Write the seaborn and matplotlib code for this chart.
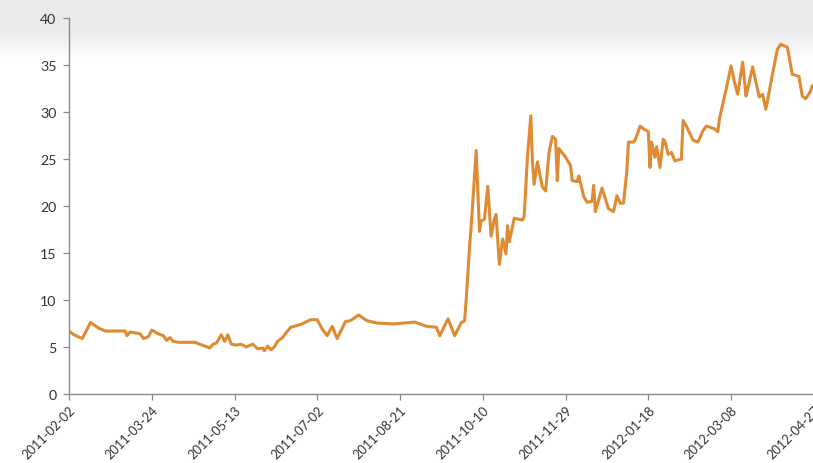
import numpy as np
import pandas as pd
import matplotlib
matplotlib.use("Agg")
import matplotlib.pyplot as plt
import seaborn as sns

# Series start date and day offsets of each observation
start_date = "2011-02-02"
day_offsets = [
    0, 3, 8, 13, 18, 22, 34, 35, 37, 43, 45, 48, 50, 54, 57, 59, 61, 63, 66, 76,
    82, 85, 87, 89, 92, 94, 96, 98, 101, 104, 107, 111, 114, 117, 118, 120, 122, 124, 126, 129,
    132, 134, 140, 146, 150, 153, 156, 159, 162, 167, 170, 175, 180, 186, 196, 209, 216, 222, 224, 229,
    233, 237, 239, 240, 242, 243, 246, 248, 249, 251, 253, 255, 257, 258, 260, 262, 264, 265, 266, 269,
    274, 275, 277, 279, 280, 281, 283, 286, 288, 290, 292, 294, 295, 296, 300, 303, 304, 307, 308, 311,
    313, 316, 317, 318, 322, 326, 329, 331, 333, 335, 337, 338, 341, 342, 345, 348, 350, 351, 352, 354,
    355, 357, 359, 360, 362, 364, 366, 370, 371, 373, 377, 380, 383, 385, 387, 390, 392, 393, 397, 400,
    402, 404, 407, 409, 410, 413, 416, 417, 419, 421, 422, 425, 428, 430, 434, 437, 441, 443, 445, 448,
    449,
]
values = [
    6.7, 6.3, 5.9, 7.6, 7.0, 6.7, 6.7, 6.2, 6.6, 6.4, 5.9, 6.1, 6.8, 6.4, 6.2, 5.7, 6.0, 5.6, 5.5, 5.5,
    5.1, 4.9, 5.3, 5.4, 6.3, 5.6, 6.3, 5.3, 5.2, 5.3, 5.0, 5.3, 4.8, 4.9, 4.6, 5.1, 4.7, 5.0, 5.6, 6.0,
    6.7, 7.1, 7.4, 7.9, 7.9, 6.9, 6.2, 7.2, 5.9, 7.7, 7.8, 8.4, 7.8, 7.55, 7.45, 7.65, 7.2, 7.1, 6.2, 8.0,
    6.2, 7.6, 7.8, 10.1, 15.7, 17.9, 25.9, 17.3, 18.4, 18.6, 22.1, 16.8, 18.6, 19.1, 13.8, 16.5, 14.9, 17.9, 16.2, 18.7,
    18.5, 18.9, 25.3, 29.6, 24.7, 22.3, 24.7, 22.0, 21.6, 25.7, 27.4, 27.1, 22.7, 26.1, 25.2, 24.3, 22.7, 22.6, 23.2, 21.0,
    20.4, 20.5, 22.2, 19.4, 21.9, 19.7, 19.4, 21.1, 20.3, 20.3, 23.7, 26.8, 26.8, 27.0, 28.5, 28.1, 27.9, 24.1, 26.8, 25.2,
    26.3, 24.1, 27.1, 26.9, 25.5, 25.7, 24.8, 25.0, 29.1, 28.5, 27.0, 26.8, 28.0, 28.5, 28.4, 28.2, 27.9, 29.3, 32.4, 34.9,
    33.2, 31.9, 35.3, 31.7, 32.4, 34.8, 32.4, 31.6, 31.9, 30.3, 31.2, 34.0, 36.7, 37.2, 36.9, 34.0, 33.8, 31.7, 31.4, 32.2,
    32.8,
]
tick_step_days = 50
y_ticks = [0, 5, 10, 15, 20, 25, 30, 35, 40]

start = pd.Timestamp(start_date)
df = pd.DataFrame({
    "date": start + pd.to_timedelta(day_offsets, unit="D"),
    "value": values,
})

sns.set_theme(style="white")
plt.rcParams["font.family"] = ["Lato", "DejaVu Sans"]

W, H = 813, 464
fig = plt.figure(figsize=(W / 100, H / 100), dpi=100)

# Faint grey band across the top of the page
bg = fig.add_axes([0, 0, 1, 1], zorder=-10)
rows = np.arange(H)
fade = np.clip((60 - rows) / 28.0, 0, 1)
grad = (1.0 - 0.085 * fade)[:, None]
bg.imshow(grad, cmap="gray", vmin=0, vmax=1, aspect="auto", extent=[0, 1, 0, 1])
bg.set_axis_off()

left, right = 69 / W, 815 / W
bottom, top = (H - 395) / H, (H - 19) / H
ax = fig.add_axes([left, bottom, right - left, top - bottom])
ax.patch.set_alpha(0)

sns.lineplot(data=df, x="date", y="value", ax=ax, color="#DE8B33", linewidth=2.2)

ax.set_xlim(start, start + pd.Timedelta(days=450.7))
ax.set_ylim(0, 40)
ax.set_yticks(y_ticks)
ax.set_yticklabels([str(v) for v in y_ticks])

xt = [start + pd.Timedelta(days=d) for d in range(0, 451, tick_step_days)]
ax.set_xticks(xt)
ax.set_xticklabels([t.strftime("%Y-%m-%d") for t in xt], rotation=45, ha="right",
                   rotation_mode="anchor")
ax.set_xlabel("")
ax.set_ylabel("")

for s in ["top", "right"]:
    ax.spines[s].set_visible(False)
for s in ["left", "bottom"]:
    ax.spines[s].set_color("#8a8a8a")
    ax.spines[s].set_linewidth(1.0)

ax.tick_params(axis="both", which="major", direction="out", length=4, width=0.9,
               color="#8a8a8a", labelcolor="#333333")
ax.tick_params(axis="y", labelsize=10.2, pad=5, left=True)
ax.tick_params(axis="x", labelsize=9.2, pad=3, bottom=True)
ax.grid(False)

fig.savefig("out.png", dpi=100)
